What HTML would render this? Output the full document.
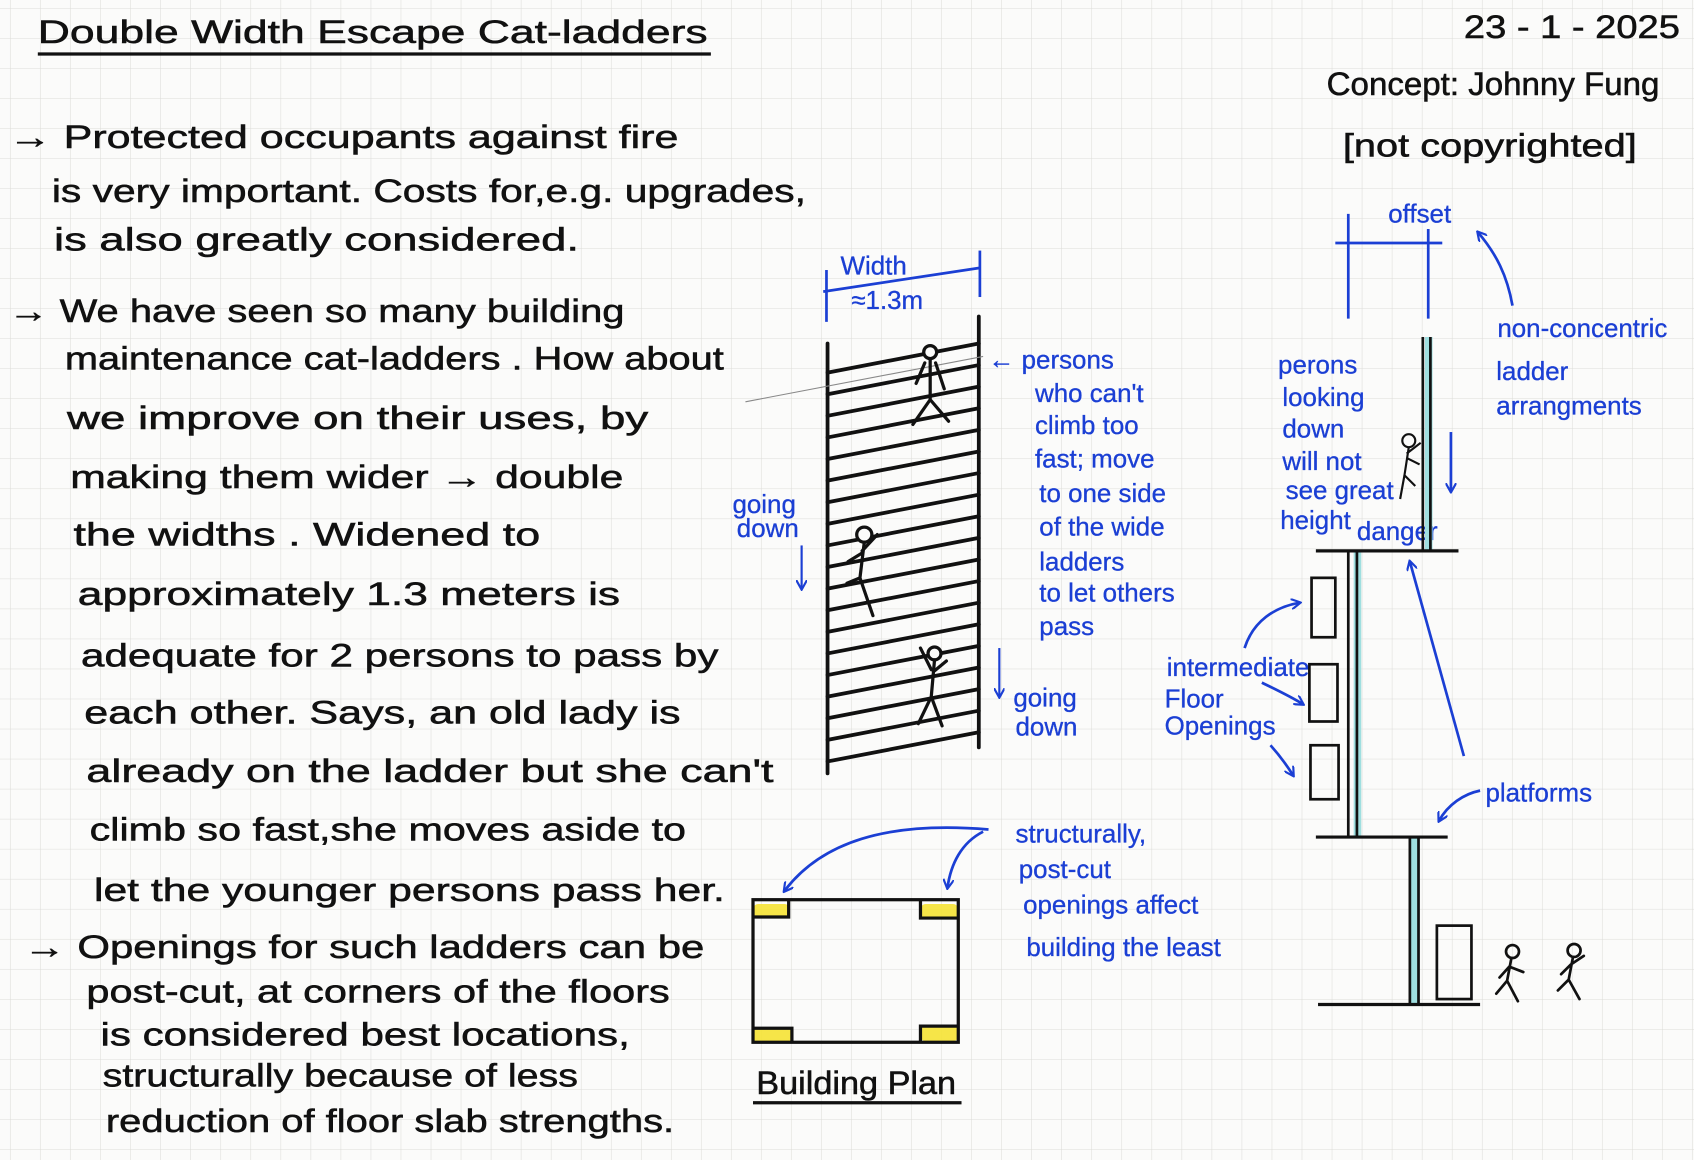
<!DOCTYPE html>
<html><head><meta charset="utf-8"><style>
html,body{margin:0;padding:0;background:#fbfbfa;}
svg{display:block}
text{font-family:"Liberation Sans",sans-serif;}
.k{fill:#111;font-size:30px;stroke:#111;stroke-width:0.5px;}
.b{fill:#1b3fd4;font-size:24px;stroke:#1b3fd4;stroke-width:0.3px;}
</style></head><body>
<svg width="1694" height="1160" viewBox="0 0 1568 1074" preserveAspectRatio="none" xmlns="http://www.w3.org/2000/svg">
<defs>
<pattern id="g" width="27.8" height="27.8" patternUnits="userSpaceOnUse" x="10" y="8">
<path d="M27.8 0V27.8M0 27.8H27.8" stroke="#dcdcd8" stroke-width="1" fill="none"/>
</pattern>
<marker id="ah" markerWidth="10" markerHeight="10" refX="8" refY="5" orient="auto" markerUnits="userSpaceOnUse">
<path d="M0,0 L9,5 L0,10" fill="none" stroke="#1b3fd4" stroke-width="2"/>
</marker>
</defs>
<rect width="1568" height="1074" fill="#fbfbfa"/>
<rect width="1568" height="1074" fill="url(#g)"/>

<text class="k" x="35" y="40" font-size="32" textLength="620" lengthAdjust="spacingAndGlyphs">Double Width Escape Cat-ladders</text>
<line x1="35" y1="50" x2="658" y2="50" stroke="#111" stroke-width="3"/>
<text class="k" x="1355" y="35" font-size="28" textLength="200" lengthAdjust="spacingAndGlyphs">23 - 1 - 2025</text>
<text class="k" x="1228" y="88" font-size="28" textLength="308" lengthAdjust="spacingAndGlyphs">Concept: Johnny Fung</text>
<text class="k" x="1243" y="145" font-size="28" textLength="272" lengthAdjust="spacingAndGlyphs">[not copyrighted]</text>

<text class="k" x="8" y="137" textLength="620" lengthAdjust="spacingAndGlyphs">→ Protected occupants against fire</text>
<text class="k" x="48" y="187" textLength="698" lengthAdjust="spacingAndGlyphs">is very important. Costs for,e.g. upgrades,</text>
<text class="k" x="50" y="232" textLength="486" lengthAdjust="spacingAndGlyphs">is also greatly considered.</text>
<text class="k" x="8" y="298" textLength="570" lengthAdjust="spacingAndGlyphs">→ We have seen so many building</text>
<text class="k" x="60" y="342" textLength="610" lengthAdjust="spacingAndGlyphs">maintenance cat-ladders . How about</text>
<text class="k" x="62" y="397" textLength="538" lengthAdjust="spacingAndGlyphs">we improve on their uses, by</text>
<text class="k" x="65" y="452" textLength="512" lengthAdjust="spacingAndGlyphs">making them wider → double</text>
<text class="k" x="68" y="505" textLength="432" lengthAdjust="spacingAndGlyphs">the widths . Widened to</text>
<text class="k" x="72" y="560" textLength="502" lengthAdjust="spacingAndGlyphs">approximately 1.3 meters is</text>
<text class="k" x="75" y="617" textLength="590" lengthAdjust="spacingAndGlyphs">adequate for 2 persons to pass by</text>
<text class="k" x="78" y="670" textLength="552" lengthAdjust="spacingAndGlyphs">each other. Says, an old lady is</text>
<text class="k" x="80" y="724" textLength="636" lengthAdjust="spacingAndGlyphs">already on the ladder but she can't</text>
<text class="k" x="83" y="778" textLength="552" lengthAdjust="spacingAndGlyphs">climb so fast,she moves aside to</text>
<text class="k" x="87" y="834" textLength="584" lengthAdjust="spacingAndGlyphs">let the younger persons pass her.</text>
<text class="k" x="22" y="887" textLength="630" lengthAdjust="spacingAndGlyphs">→ Openings for such ladders can be</text>
<text class="k" x="80" y="928" textLength="540" lengthAdjust="spacingAndGlyphs">post-cut, at corners of the floors</text>
<text class="k" x="93" y="968" textLength="490" lengthAdjust="spacingAndGlyphs">is considered best locations,</text>
<text class="k" x="95" y="1006" textLength="440" lengthAdjust="spacingAndGlyphs">structurally because of less</text>
<text class="k" x="98" y="1048" textLength="526" lengthAdjust="spacingAndGlyphs">reduction of floor slab strengths.</text>

<g stroke="#111" stroke-width="3.5" fill="none" stroke-linecap="round">
<line x1="766" y1="318" x2="766" y2="716"/>
<line x1="906" y1="293" x2="906" y2="692"/>
<path d="M766 345L906 318M766 365L906 338M766 385L906 358M766 405L906 378M766 425L906 398M766 445L906 418M766 465L906 438M766 485L906 458M766 505L906 478M766 525L906 498M766 545L906 518M766 565L906 538M766 585L906 558M766 605L906 578M766 625L906 598M766 645L906 618M766 665L906 638M766 685L906 658M766 705L906 678"/>
</g>
<line x1="690" y1="372" x2="910" y2="330" stroke="#888" stroke-width="1"/>
<g stroke="#111" stroke-width="3" fill="#fbfbfa" stroke-linecap="round">
<circle cx="861" cy="326" r="6"/>
<path d="M861 332V370M861 370L845 393M861 370L878 390M856 336L848 355M866 336L874 360"/>
<circle cx="800" cy="495" r="7"/>
<path d="M800 502L796 535M796 535L784 540M796 535L808 570M798 510L812 495M798 512L785 520"/>
<circle cx="865" cy="605" r="6"/>
<path d="M865 611L862 645M862 645L850 670M862 645L872 672M862 620L852 600M864 622L876 612"/>
</g>
<g stroke="#1b3fd4" stroke-width="2.5" fill="none">
<line x1="762" y1="270" x2="907" y2="248"/>
<line x1="765" y1="250" x2="765" y2="298"/>
<line x1="907" y1="232" x2="907" y2="275"/>
</g>
<text class="b" x="778" y="254" font-size="22">Width</text>
<text class="b" x="788" y="286" font-size="22">≈1.3m</text>
<text class="b" x="915" y="341">← persons</text>
<text class="b" x="958" y="372">who can't</text>
<text class="b" x="958" y="402">climb too</text>
<text class="b" x="958" y="433">fast; move</text>
<text class="b" x="962" y="465">to one side</text>
<text class="b" x="962" y="496">of the wide</text>
<text class="b" x="962" y="528">ladders</text>
<text class="b" x="962" y="557">to let others</text>
<text class="b" x="962" y="588">pass</text>
<text class="b" x="678" y="475" font-size="20">going</text>
<text class="b" x="682" y="497" font-size="20">down</text>
<line x1="742" y1="505" x2="742" y2="545" stroke="#1b3fd4" stroke-width="2" marker-end="url(#ah)"/>
<line x1="925" y1="600" x2="925" y2="645" stroke="#1b3fd4" stroke-width="2" marker-end="url(#ah)"/>
<text class="b" x="938" y="654" font-size="21">going</text>
<text class="b" x="940" y="681" font-size="21">down</text>

<g fill="#f5e234" opacity="0.9">
<rect x="697" y="837" width="34" height="12" rx="5"/>
<rect x="852" y="837" width="35" height="13" rx="5"/>
<rect x="697" y="952" width="36" height="13" rx="5"/>
<rect x="852" y="950" width="35" height="14" rx="5"/>
</g>
<g stroke="#111" stroke-width="3" fill="none">
<rect x="697" y="833" width="190" height="132"/>
<path d="M697 849H730V833M852 833V850H887M697 952H733V965M852 965V950H887"/>
</g>
<text class="k" x="700" y="1013" font-size="26" textLength="185" lengthAdjust="spacingAndGlyphs">Building Plan</text>
<line x1="697" y1="1021" x2="890" y2="1021" stroke="#111" stroke-width="3"/>
<g stroke="#1b3fd4" stroke-width="2.5" fill="none">
<path d="M915 768C820 760 760 780 726 825" marker-end="url(#ah)"/>
<path d="M910 770C890 780 880 800 877 822" marker-end="url(#ah)"/>
</g>
<text class="b" x="940" y="780" font-size="26">structurally,</text>
<text class="b" x="943" y="813" font-size="26">post-cut</text>
<text class="b" x="947" y="846" font-size="26">openings affect</text>
<text class="b" x="950" y="885" font-size="26">building the least</text>

<g stroke="#1b3fd4" stroke-width="2.5" fill="none">
<line x1="1236" y1="225" x2="1335" y2="225"/>
<line x1="1248" y1="198" x2="1248" y2="295"/>
<line x1="1322" y1="212" x2="1322" y2="295"/>
<path d="M1400 283C1395 255 1385 235 1368 215" marker-end="url(#ah)"/>
<line x1="1343" y1="400" x2="1343" y2="455" marker-end="url(#ah)"/>
<path d="M1152 600C1160 575 1180 562 1203 558" marker-end="url(#ah)"/>
<path d="M1168 632C1180 638 1195 645 1206 652" marker-end="url(#ah)"/>
<path d="M1176 690C1185 700 1192 710 1197 718" marker-end="url(#ah)"/>
<path d="M1355 700L1305 520" marker-end="url(#ah)"/>
<path d="M1370 732C1355 735 1340 745 1332 760" marker-end="url(#ah)"/>
</g>
<text class="b" x="1285" y="206" font-size="22">offset</text>
<text class="b" x="1386" y="312" font-size="22">non-concentric</text>
<text class="b" x="1385" y="352" font-size="24">ladder</text>
<text class="b" x="1385" y="384" font-size="24">arrangments</text>
<text class="b" x="1183" y="346">perons</text>
<text class="b" x="1187" y="376">looking</text>
<text class="b" x="1187" y="405">down</text>
<text class="b" x="1187" y="435">will not</text>
<text class="b" x="1190" y="462">see great</text>
<text class="b" x="1185" y="490">height</text>
<text class="b" x="1256" y="500" font-size="15">danger</text>
<text class="b" x="1080" y="626" font-size="21">intermediate</text>
<text class="b" x="1078" y="655" font-size="23">Floor</text>
<text class="b" x="1078" y="680" font-size="23">Openings</text>
<text class="b" x="1375" y="742" font-size="26">platforms</text>

<g fill="#9fdfe0">
<rect x="1319" y="312" width="7" height="198"/>
<rect x="1253" y="510" width="7" height="265"/>
<rect x="1306" y="775" width="8" height="155"/>
</g>
<g stroke="#111" stroke-width="2.5" fill="none">
<path d="M1317 312V510M1324 312V510"/>
<path d="M1248 510V775M1256 510V775"/>
<path d="M1305 775V930M1313 775V930"/>
<line x1="1218" y1="510" x2="1350" y2="510" stroke-width="3"/>
<line x1="1218" y1="775" x2="1340" y2="775" stroke-width="3"/>
<line x1="1220" y1="930" x2="1370" y2="930" stroke-width="3"/>
<rect x="1214" y="535" width="22" height="55"/>
<rect x="1212" y="615" width="26" height="53"/>
<rect x="1213" y="690" width="26" height="50"/>
<rect x="1330" y="857" width="32" height="68"/>
</g>
<g stroke="#111" stroke-width="2" fill="none">
<circle cx="1304" cy="408" r="6"/>
<path d="M1304 414L1300 440M1300 440L1310 450M1300 440L1296 462M1302 420L1315 410M1302 424L1314 430"/>
</g>
<g stroke="#111" stroke-width="2.5" fill="none" stroke-linecap="round">
<circle cx="1400" cy="881" r="6"/>
<path d="M1399 887L1395 908M1395 908L1385 920M1395 908L1405 927M1397 895L1388 905M1397 895L1410 900"/>
<circle cx="1457" cy="880" r="6"/>
<path d="M1456 886L1452 907M1452 907L1442 917M1452 907L1462 925M1454 893L1445 902M1454 893L1466 885"/>
</g>
</svg>
</body></html>
